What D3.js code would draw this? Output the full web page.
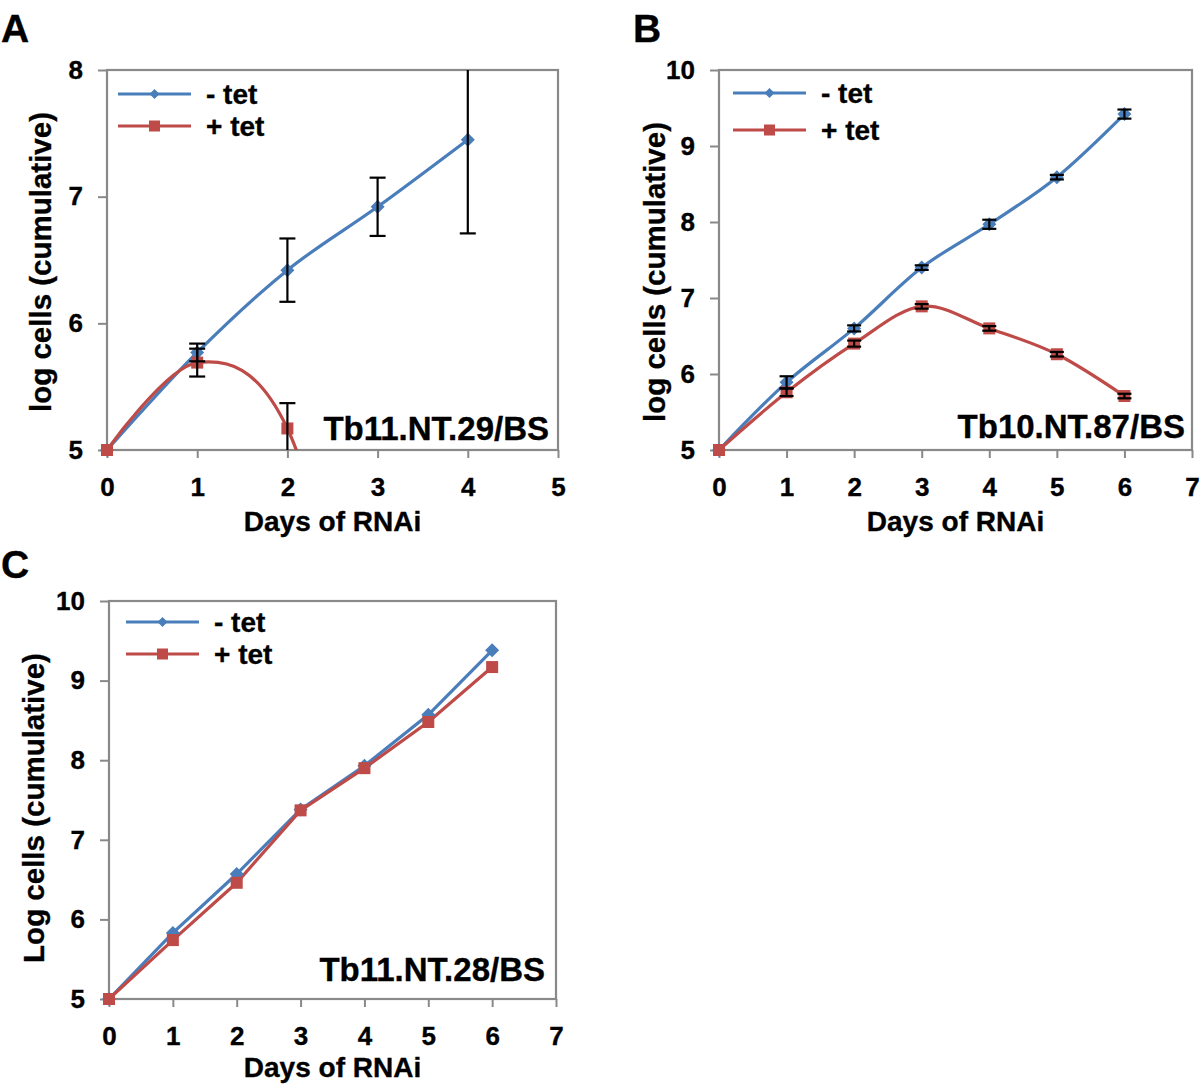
<!DOCTYPE html>
<html><head><meta charset="utf-8">
<script src="https://cdn.jsdelivr.net/npm/d3@7"></script>
<style>
body{margin:0;background:#fff}
svg text{font-family:'Liberation Sans',Arial,Helvetica,sans-serif;font-weight:bold;fill:#000;stroke:#000;stroke-width:0.35px}
</style>
</head><body>
<svg id="chart" width="1200" height="1089"></svg>
<script>
// ---------- DATA ----------
const seriesNames = ["- tet", "+ tet"];

// Panel A: Tb11.NT.29/BS
const daysA = [0, 1, 2, 3, 4];
const aMinus = [5.00, 5.77, 6.42, 6.92, 7.45];
const aMinusErr = [0, 0.07, 0.25, 0.23, 0.74];
const daysAPlus = [0, 1, 2, 3];
const aPlus = [5.00, 5.69, 5.17, 2.70];
const aPlusErr = [0, 0.11, 0.20, 0];
const xTicksA = [0, 1, 2, 3, 4, 5];
const yTicksA = [5, 6, 7, 8];

// Panel B: Tb10.NT.87/BS
const daysB = [0, 1, 2, 3, 4, 5, 6];
const bMinus = [5.00, 5.89, 6.60, 7.40, 7.97, 8.59, 9.42];
const bMinusErr = [0, 0.08, 0.04, 0.03, 0.06, 0.03, 0.06];
const bPlus = [5.00, 5.76, 6.40, 6.89, 6.60, 6.26, 5.71];
const bPlusErr = [0, 0.05, 0.04, 0.03, 0.03, 0.03, 0.03];
const xTicksB = [0, 1, 2, 3, 4, 5, 6, 7];
const yTicksB = [5, 6, 7, 8, 9, 10];

// Panel C: Tb11.NT.28/BS
const daysC = [0, 1, 2, 3, 4, 5, 6];
const cMinus = [5.00, 5.83, 6.57, 7.38, 7.93, 8.57, 9.38];
const cPlus = [5.00, 5.74, 6.46, 7.37, 7.90, 8.48, 9.17];
const xTicksC = [0, 1, 2, 3, 4, 5, 6, 7];
const yTicksC = [5, 6, 7, 8, 9, 10];

// ---------- STYLE / LAYOUT ----------
const BLUE = "#4A7EBB", RED = "#BE4B48", FRAME = "#898989";
const svg = d3.select("#chart");

const panels = [
  {key:"A", letter:"A", L:107, R:558, T:70, B:450, xTicks:xTicksA, yTicks:yTicksA,
   minus:{x:daysA, y:aMinus, e:aMinusErr}, plus:{x:daysAPlus, y:aPlus, e:aPlusErr}, smooth:true,
   letterPos:[1,42], yTitle:"log cells (cumulative)", yTitlePos:[41,262], xTitleY:531,
   label:"Tb11.NT.29/BS", labelPos:[549,440], legend:{x1:118,x2:191,xt:206,y1:94,y2:126}},
  {key:"B", letter:"B", L:719, R:1192, T:70, B:450, xTicks:xTicksB, yTicks:yTicksB,
   minus:{x:daysB, y:bMinus, e:bMinusErr}, plus:{x:daysB, y:bPlus, e:bPlusErr}, smooth:true,
   letterPos:[633,42], yTitle:"log cells (cumulative)", yTitlePos:[655,272], xTitleY:531,
   label:"Tb10.NT.87/BS", labelPos:[1185,438], legend:{x1:733,x2:806,xt:821,y1:93,y2:130}},
  {key:"C", letter:"C", L:109, R:556, T:601, B:999, xTicks:xTicksC, yTicks:yTicksC,
   minus:{x:daysC, y:cMinus, e:null}, plus:{x:daysC, y:cPlus, e:null}, smooth:false,
   letterPos:[1,578], yTitle:"Log cells (cumulative)", yTitlePos:[34,808], xTitleY:1077,
   label:"Tb11.NT.28/BS", labelPos:[545,981], legend:{x1:126,x2:199,xt:214,y1:622,y2:654}}
];

function diamond(g, cx, cy, r, color){
  g.append("path").attr("d", `M${cx},${cy-r}L${cx+r},${cy}L${cx},${cy+r}L${cx-r},${cy}Z`).attr("fill", color);
}
function square(g, cx, cy, s, color){
  g.append("rect").attr("x", cx-s/2).attr("y", cy-s/2).attr("width", s).attr("height", s).attr("fill", color);
}

panels.forEach(p => {
  const g = svg.append("g");
  const xMax = p.xTicks[p.xTicks.length-1];
  const yMin = p.yTicks[0], yMax = p.yTicks[p.yTicks.length-1];
  const x = d3.scaleLinear().domain([0, xMax]).range([p.L, p.R]);
  const y = d3.scaleLinear().domain([yMin, yMax]).range([p.B, p.T]);

  const clipId = "clip" + p.key;
  svg.append("clipPath").attr("id", clipId).append("rect")
    .attr("x", p.L).attr("y", p.T).attr("width", p.R-p.L).attr("height", p.B-p.T);

  const ya = g.append("g").attr("transform", `translate(${p.L},0)`)
    .call(d3.axisLeft(y).tickValues(p.yTicks).tickSize(9).tickPadding(15).tickFormat(d3.format("d")));
  const xa = g.append("g").attr("transform", `translate(0,${p.B})`)
    .call(d3.axisBottom(x).tickValues(p.xTicks).tickSize(8).tickPadding(20).tickFormat(d3.format("d")));
  [ya, xa].forEach(a => {
    a.select(".domain").remove();
    a.selectAll(".tick line").attr("stroke", FRAME).attr("stroke-width", 2);
    a.selectAll(".tick text").style("font-size", "26px").attr("fill", "#000");
  });

  g.append("rect").attr("x", p.L).attr("y", p.T).attr("width", p.R-p.L).attr("height", p.B-p.T)
    .attr("fill", "none").attr("stroke", FRAME).attr("stroke-width", 2.2);

  const curve = p.smooth ? d3.curveCardinal.tension(0) : d3.curveLinear;
  const line = d3.line().x(d => x(d[0])).y(d => y(d[1])).curve(curve);

  const series = [
    {s:p.minus, color:BLUE, marker:"diamond"},
    {s:p.plus, color:RED, marker:"square"}
  ];

  const plotG = g.append("g");
  series.forEach(se => {
    const pts = se.s.x.map((d,i) => [d, se.s.y[i]]);
    plotG.append("path").attr("d", line(pts)).attr("fill", "none")
      .attr("stroke", se.color).attr("stroke-width", 3.2).attr("clip-path", `url(#${clipId})`);
  });
  series.forEach(se => {
    se.s.x.forEach((d,i) => {
      const v = se.s.y[i];
      if (v < yMin || v > yMax) return;
      if (se.marker === "diamond") diamond(plotG, x(d), y(v), 7, se.color);
      else square(plotG, x(d), y(v), 12, se.color);
    });
  });
  const eb = g.append("g").attr("clip-path", `url(#${clipId})`);
  const cap = p.key === "A" ? 16 : 14;
  series.forEach(se => {
    if (!se.s.e) return;
    se.s.x.forEach((d,i) => {
      const e = se.s.e[i];
      if (!e) return;
      const v = se.s.y[i];
      const cx = x(d), y1 = y(v+e), y2 = y(v-e);
      eb.append("line").attr("x1", cx).attr("x2", cx).attr("y1", y1).attr("y2", y2)
        .attr("stroke", "#000").attr("stroke-width", 2.2);
      [y1, y2].forEach(yy => eb.append("line").attr("x1", cx-cap/2).attr("x2", cx+cap/2)
        .attr("y1", yy).attr("y2", yy).attr("stroke", "#000").attr("stroke-width", 2.2));
    });
  });

  const lg = p.legend;
  [[BLUE, "diamond", lg.y1, seriesNames[0]], [RED, "square", lg.y2, seriesNames[1]]].forEach(([c, m, yy, name]) => {
    g.append("line").attr("x1", lg.x1).attr("x2", lg.x2).attr("y1", yy).attr("y2", yy)
      .attr("stroke", c).attr("stroke-width", 3.2);
    const cx = (lg.x1 + lg.x2) / 2;
    if (m === "diamond") diamond(g, cx, yy, 5, c); else square(g, cx, yy, 11, c);
    g.append("text").attr("x", lg.xt).attr("y", yy).attr("dy", "0.36em")
      .style("font-size", "28px").text(name);
  });

  g.append("text").attr("x", p.labelPos[0]).attr("y", p.labelPos[1]).attr("text-anchor", "end")
    .style("font-size", "33px").text(p.label);

  g.append("text").attr("x", (p.L+p.R)/2).attr("y", p.xTitleY).attr("text-anchor", "middle")
    .style("font-size", "28px").text("Days of RNAi");
  g.append("text").attr("transform", `translate(${p.yTitlePos[0]},${p.yTitlePos[1]}) rotate(-90)`)
    .attr("text-anchor", "middle").attr("dy", "0.35em").style("font-size", "29.5px").text(p.yTitle);

  g.append("text").attr("x", p.letterPos[0]).attr("y", p.letterPos[1])
    .style("font-size", "39px").text(p.letter);
});
</script>
</body></html>
